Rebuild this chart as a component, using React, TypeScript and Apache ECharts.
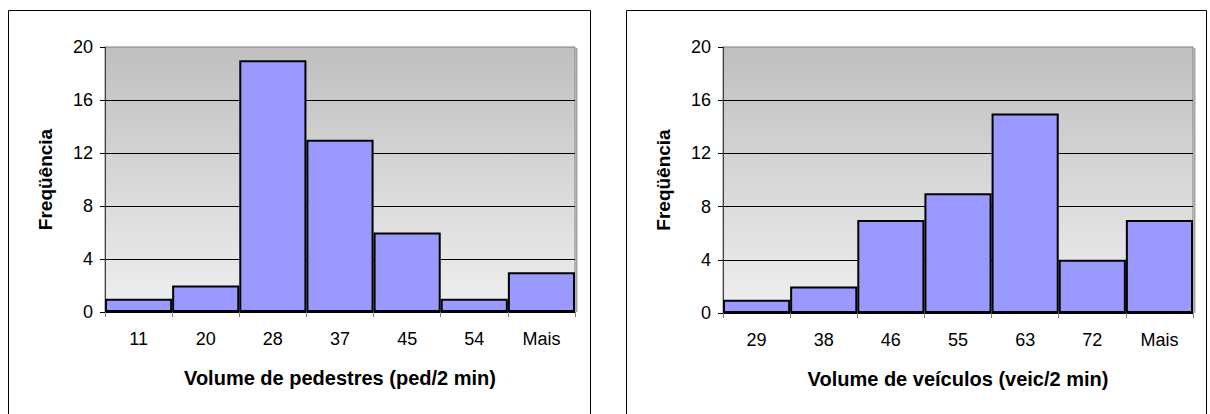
import React, { useEffect, useRef } from "react";
import * as echarts from "echarts";

// Pedestrian volume histogram
const pedCategories = ["11", "20", "28", "37", "45", "54", "Mais"];
const pedCounts = [1, 2, 19, 13, 6, 1, 3];

// Vehicle volume histogram
const vehCategories = ["29", "38", "46", "55", "63", "72", "Mais"];
const vehCounts = [1, 2, 7, 9, 15, 4, 7];

const yAxisTitle = "Freqüência";
const pedAxisTitle = "Volume de pedestres (ped/2 min)";
const vehAxisTitle = "Volume de veículos (veic/2 min)";

const FONT = "'Liberation Sans', Arial, sans-serif";

export default function App() {
  const ref = useRef<HTMLDivElement>(null);

  useEffect(() => {
    if (!ref.current) return;
    const chart = echarts.init(ref.current, null, { renderer: "svg" });

    const plotBg = new echarts.graphic.LinearGradient(0, 0, 0, 1, [
      { offset: 0, color: "#bfbfbf" },
      { offset: 1, color: "#efefef" },
    ]);

    const gridBoxes = [
      { left: 105, top: 47, width: 470, height: 265 },
      { left: 723, top: 47, width: 470, height: 266 },
    ];

    const grids = gridBoxes.map((g) => ({
      ...g,
      show: true,
      backgroundColor: plotBg,
      borderColor: "#808080",
      borderWidth: 1,
    }));

    const makeX = (idx: number, cats: string[], title: string) => ({
      type: "category",
      gridIndex: idx,
      data: cats,
      name: title,
      nameLocation: "middle",
      nameGap: 56,
      nameTextStyle: {
        fontFamily: FONT,
        fontWeight: "bold",
        fontSize: 20,
        color: "#000",
      },
      axisLine: { show: true, lineStyle: { color: "#000", width: 1 } },
      axisTick: {
        show: true,
        alignWithLabel: false,
        length: 5,
        lineStyle: { color: "#808080" },
      },
      axisLabel: {
        fontFamily: FONT,
        fontSize: 18,
        color: "#000",
        margin: 18,
      },
      splitLine: { show: false },
    });

    const makeY = (idx: number) => ({
      type: "value",
      gridIndex: idx,
      min: 0,
      max: 20,
      interval: 4,
      name: yAxisTitle,
      nameLocation: "middle",
      nameGap: 50,
      nameTextStyle: {
        fontFamily: FONT,
        fontWeight: "bold",
        fontSize: 19,
        color: "#000",
      },
      axisLine: { show: true, lineStyle: { color: "#404040", width: 1 } },
      axisTick: { show: true, length: 5, lineStyle: { color: "#000" } },
      axisLabel: {
        fontFamily: FONT,
        fontSize: 18,
        color: "#000",
        margin: 12,
      },
      splitLine: {
        show: true,
        showMaxLine: false,
        lineStyle: { color: "#000", width: 1 },
      },
    });

    const barStyle = {
      color: "#9999ff",
      borderColor: "#000",
      borderWidth: 2,
    };

    // frame of each chart plus a soft shadow on the plot area's right edge
    const frames = [
      { x: 8.5, y: 10.5, width: 582, height: 420 },
      { x: 626.5, y: 10.5, width: 580, height: 420 },
    ];

    chart.setOption({
      animation: false,
      backgroundColor: "#fff",
      grid: grids,
      xAxis: [
        makeX(0, pedCategories, pedAxisTitle),
        makeX(1, vehCategories, vehAxisTitle),
      ],
      yAxis: [makeY(0), makeY(1)],
      series: [
        {
          type: "bar",
          xAxisIndex: 0,
          yAxisIndex: 0,
          data: pedCounts,
          barCategoryGap: 0,
          itemStyle: barStyle,
        },
        {
          type: "bar",
          xAxisIndex: 1,
          yAxisIndex: 1,
          data: vehCounts,
          barCategoryGap: 0,
          itemStyle: barStyle,
        },
      ],
      graphic: [
        ...frames.map((f) => ({
          type: "rect",
          shape: f,
          style: { fill: "none", stroke: "#000", lineWidth: 1 },
          silent: true,
        })),
        ...gridBoxes.map((g) => ({
          type: "line",
          shape: {
            x1: g.left + g.width + 1.5,
            y1: g.top + 1,
            x2: g.left + g.width + 1.5,
            y2: g.top + g.height,
          },
          style: { stroke: "#a6a6a6", lineWidth: 2 },
          silent: true,
        })),
      ],
    });

    return () => chart.dispose();
  }, []);

  return (
    <div
      ref={ref}
      style={{ position: "absolute", left: 0, top: 0, width: 1210, height: 414 }}
    />
  );
}
